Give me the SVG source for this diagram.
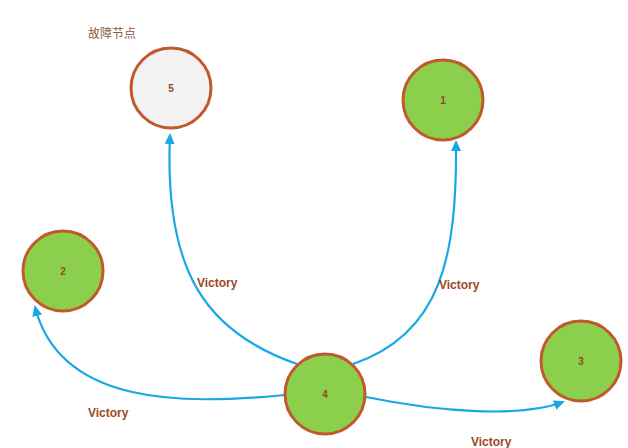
<svg xmlns="http://www.w3.org/2000/svg" width="628" height="448" viewBox="0 0 628 448">
<style>
.n{stroke:#c0592b;stroke-width:3}
.g{fill:#8ccf4d}
.w{fill:#f2f2f2}
.t{font-family:"Liberation Sans",Arial,sans-serif;font-size:10px;font-weight:bold;fill:#8b4a2b;text-anchor:middle}
.l{font-family:"Liberation Sans",Arial,sans-serif;font-size:12px;font-weight:bold;fill:#9a4a26}
.e{fill:none;stroke:#1aa7e6;stroke-width:2.2}
</style>
<defs>
<marker id="a" markerWidth="14" markerHeight="14" refX="9" refY="5" orient="auto" markerUnits="userSpaceOnUse">
<path d="M0,0 L11,5 L0,10 z" fill="#1aa7e6"/>
</marker>
</defs>
<rect width="628" height="448" fill="#fff"/>
<g id="edges">
<path class="e" d="M297,364 C205,332 164,270 170,135" marker-end="url(#a)"/>
<path class="e" d="M353,364 C442,334 457,255 456,142" marker-end="url(#a)"/>
<path class="e" d="M285,395 C180,405 60,405 35,307" marker-end="url(#a)"/>
<path class="e" d="M366,397 C440,412 520,418 563,402" marker-end="url(#a)"/>
<text class="l" x="197" y="287">Victory</text>
<text class="l" x="439" y="289">Victory</text>
<text class="l" x="88" y="417">Victory</text>
<text class="l" x="471" y="446">Victory</text>
</g>
<g id="node5">
<circle class="n w" cx="171" cy="88" r="40"/>
<text class="t" x="171" y="92">5</text>
<text x="88" y="38" font-family="'Noto Sans CJK SC',sans-serif" font-size="12" fill="#8b5a3c">故障节点</text>
</g>
<g id="node1">
<circle class="n g" cx="443" cy="100" r="40"/>
<text class="t" x="443" y="104">1</text>
</g>
<g id="node2">
<circle class="n g" cx="63" cy="271" r="40"/>
<text class="t" x="63" y="275">2</text>
</g>
<g id="node3">
<circle class="n g" cx="581" cy="361" r="40"/>
<text class="t" x="581" y="365">3</text>
</g>
<g id="node4">
<circle class="n g" cx="325" cy="394" r="40"/>
<text class="t" x="325" y="398">4</text>
</g>
</svg>
